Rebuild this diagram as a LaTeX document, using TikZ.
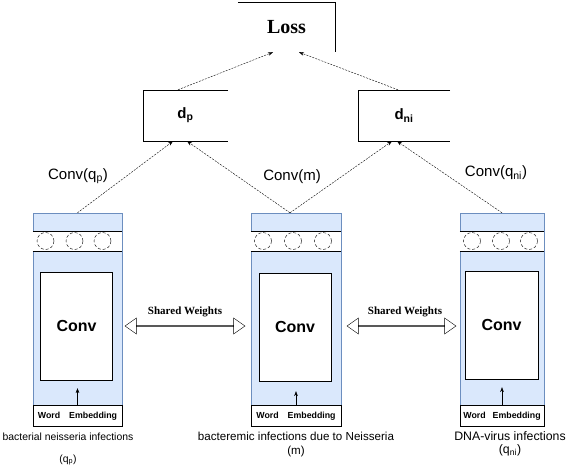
\documentclass[tikz,border=0pt]{standalone}
\usepackage{fontspec}
\setmainfont{Liberation Sans}
\newfontfamily\timesfont{Liberation Serif}
\usepackage{tikz}
\usetikzlibrary{arrows.meta,positioning,shapes.arrows}
\definecolor{panelblue}{HTML}{DAE8FC}
\definecolor{paneledge}{HTML}{6C8EBF}

\begin{document}
\begin{tikzpicture}[x=1pt, y=-1pt,
  panel/.style={draw=paneledge, fill=panelblue, minimum height=192pt, inner sep=0pt},
  band/.style={fill=white, minimum height=20pt, inner sep=0pt},
  unit/.style={draw, densely dashed, circle, minimum size=17pt, inner sep=0pt},
  convbox/.style={draw, fill=white, minimum width=72pt, minimum height=108pt,
                  font=\bfseries\fontsize{16}{18}\selectfont},
  embed/.style={draw, fill=white, minimum height=21pt, inner sep=0pt,
                font=\bfseries\fontsize{8.8}{10}\selectfont},
  dbox/.style={minimum height=51pt, inner sep=0pt, font=\bfseries\fontsize{15}{17}\selectfont},
  convlbl/.style={font=\fontsize{15}{17}\selectfont},
  query/.style={align=center, inner sep=1pt},
  shared/.style={double arrow, draw, fill=white, double arrow head extend=4pt,
                 double arrow tip angle=70, minimum width=16pt, inner sep=0pt},
  sharedlbl/.style={font=\timesfont\bfseries\fontsize{11}{13}\selectfont},
  feed/.style={dash pattern=on 2pt off 1.2pt, line width=0.4pt,
               -{Stealth[length=5pt,width=3.5pt]}},
  >=Stealth,
]
  \useasboundingbox (0,0) rectangle (570,466);

  % loss and distances
  \node[minimum width=97pt, minimum height=50pt,
        font=\timesfont\bfseries\fontsize{20}{24}\selectfont] (loss) at (286.5,27) {Loss};
  \draw (loss.north west) -- (loss.north east) -- (loss.south east);

  \node[dbox, minimum width=85pt] (dp) at (185.5,115.5) {d\textsubscript{p}};
  \draw (dp.north east) -- (dp.north west) -- (dp.south west) -- (dp.south east);
  \node[dbox, minimum width=92pt] (dni) at (404,115.5) {d\textsubscript{ni}};
  \draw (dni.north east) -- (dni.north west) -- (dni.south west) -- (dni.south east);

  % left tower
  \node[panel, minimum width=89pt] (lpanel) at (77.5,309) {};
  \node[band, minimum width=89pt] (lband) at (77.5,241) {};
  \draw (lband.north west) -- (lband.north east) (lband.south west) -- (lband.south east);
  \foreach \dx [count=\i] in {-32,-3,25}
    \node[unit] (lunit\i) at ([xshift=\dx pt]lband.center) {};
  \node[convbox] (lconv) at (76.5,326) {Conv};
  \node[embed, below=0pt of lpanel, minimum width=89pt] (lword) {Word\hspace{9pt}Embedding};
  \draw[->, shorten >=8pt] (lword.north) -- (lword.north |- lconv.south);

  % middle tower
  \node[panel, minimum width=90pt] (mpanel) at (296,309) {};
  \node[band, minimum width=90pt] (mband) at (296,241) {};
  \draw (mband.north west) -- (mband.north east) (mband.south west) -- (mband.south east);
  \foreach \dx [count=\i] in {-33,-3,27}
    \node[unit] (munit\i) at ([xshift=\dx pt]mband.center) {};
  \node[convbox] (mconv) at (295,327) {Conv};
  \node[embed, below=0pt of mpanel, minimum width=90pt] (mword) {Word\hspace{9pt}Embedding};
  \draw[->, shorten >=10pt] (mword.north) -- (mword.north |- mconv.south);

  % right tower
  \node[panel, minimum width=84pt] (rpanel) at (502,309) {};
  \node[band, minimum width=84pt] (rband) at (502,241) {};
  \draw (rband.north west) -- (rband.north east) (rband.south west) -- (rband.south east);
  \foreach \dx [count=\i] in {-30,-1,27}
    \node[unit] (runit\i) at ([xshift=\dx pt]rband.center) {};
  \node[convbox, minimum width=73pt] (rconv) at (501.5,325) {Conv};
  \node[embed, below=0pt of rpanel, minimum width=84pt] (rword) {Word\hspace{7pt}Embedding};
  \draw[->, shorten >=8pt] (rword.north) -- (rword.north |- rconv.south);

  % shared weights
  \node[shared, minimum height=120pt] (lshare) at (185,326) {};
  \node[sharedlbl] (lsharelbl) at (185,312) {Shared Weights};
  \node[shared, minimum height=109pt] (rshare) at (401.5,326) {};
  \node[sharedlbl] (rsharelbl) at (405,312) {Shared Weights};

  % convolution outputs
  \node[convlbl] (lconvlbl) at (78,176) {Conv(q\textsubscript{p})};
  \node[convlbl] (mconvlbl) at (292,177) {Conv(m)};
  \node[convlbl] (rconvlbl) at (496,173) {Conv(q\textsubscript{ni})};

  \draw[feed] (lpanel.north) -- ([xshift=-12.5pt]dp.south);
  \draw[feed] ([xshift=-6pt]mpanel.north) -- ([xshift=1.5pt]dp.south);
  \draw[feed] ([xshift=-6pt]mpanel.north) -- ([xshift=-12pt]dni.south);
  \draw[feed] (rpanel.north) -- ([xshift=-7pt]dni.south);
  \draw[feed] ([xshift=-7.5pt]dp.north) -- ([xshift=-13.5pt]loss.south);
  \draw[feed] ([xshift=-6pt]dni.north) -- ([xshift=12.5pt]loss.south);

  % inputs
  \node[query, font=\fontsize{10.4}{13}\selectfont] (lquery) at (68,449)
    {bacterial neisseria infections\\[9pt](q\textsubscript{p})};
  \node[query, font=\fontsize{11.6}{13}\selectfont] (mquery) at (296,444.5)
    {bacteremic infections due to Neisseria\\[1pt](m)};
  \node[query, font=\fontsize{12.3}{13}\selectfont] (rquery) at (510,444)
    {DNA-virus infections\\[0pt](q\textsubscript{ni})};
\end{tikzpicture}
\end{document}
